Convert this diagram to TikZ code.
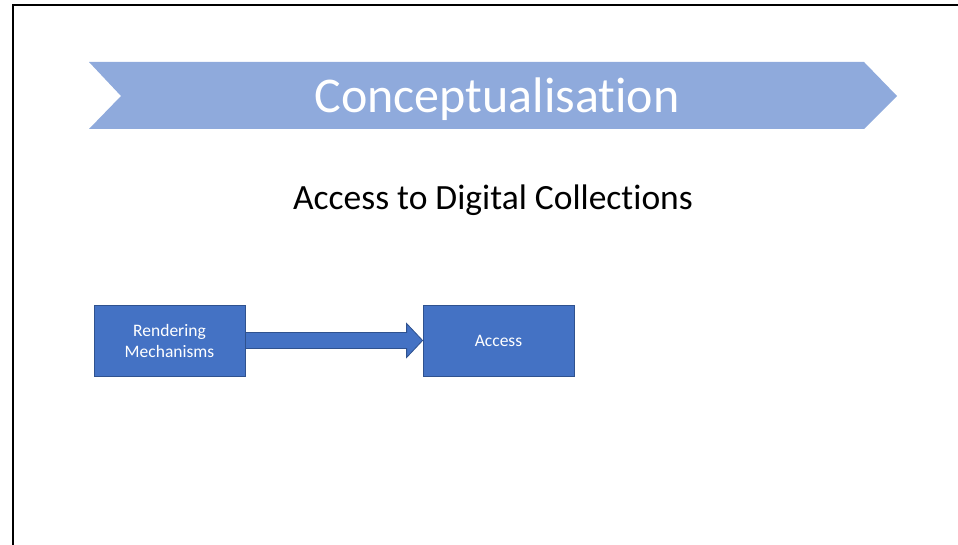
\documentclass[tikz,border=0pt]{standalone}
\usepackage{fontspec}
\setmainfont{Carlito}[Ligatures=NoCommon]
\usepackage{xcolor}
\usepackage{tikz}
\usetikzlibrary{calc, positioning}

\definecolor{chevronblue}{HTML}{8FAADC}
\definecolor{boxblue}{HTML}{4472C4}
\definecolor{boxedge}{HTML}{2F528F}

\begin{document}
\begin{tikzpicture}[x=1pt, y=-1pt,
    stagebox/.style={draw=boxedge, line width=0.8pt, fill=boxblue,
      minimum width=151pt, minimum height=71pt, text=white,
      align=center, font=\fontsize{17.5}{21}\selectfont},
    blockarrow/.style={draw=boxedge, line width=0.8pt, fill=boxblue}]
      \useasboundingbox (0,0) rectangle (958,545);

      % Frame on the left and top only
      \draw[line width=2.6pt] (13,545) -- (13,5) -- (958,5);

      % Chevron banner
      \fill[chevronblue] 
        (89,62) -- (864,62) -- (897,96) -- (864,129)
        -- (89,129) -- (121,96) -- cycle;
      \node[text=white, font=\fontsize{50}{60}\selectfont] (title) at (497,99) {Conceptualisation};

      % Subtitle
      \node[font=\fontsize{35.5}{42}\selectfont] (subtitle) at (493,200) {Access to Digital Collections};

      % The two stages
      \node[stagebox] (render) at (169.5,340.5) {Rendering\\Mechanisms};
      \node[stagebox] (access) at (498.5,340.5) {Access};

      % Block arrow between them
      \draw[blockarrow] 
        ($(render.east)+(0,-8)$) -- ($(access.west)+(-16,-8)$)
        -- ($(access.west)+(-16,-17)$) -- (access.west)
        -- ($(access.west)+(-16,17)$) -- ($(access.west)+(-16,8)$)
        -- ($(render.east)+(0,8)$) -- cycle;
    \end{tikzpicture}
\end{document}
